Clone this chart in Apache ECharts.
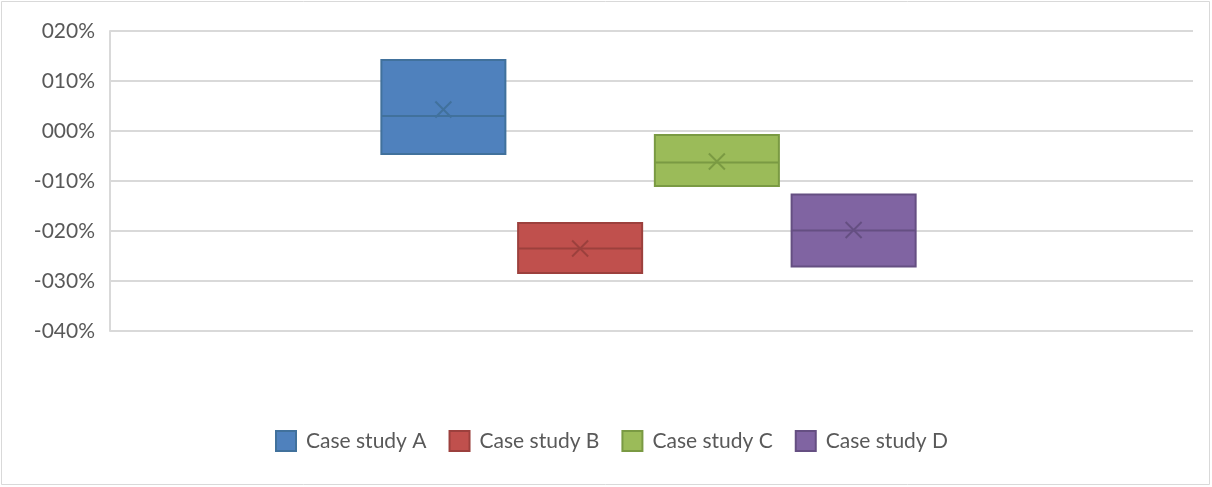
<!DOCTYPE html>
<html>
<head>
<meta charset="utf-8">
<script src="https://cdn.jsdelivr.net/npm/echarts@6/dist/echarts.min.js"></script>
<style>
  html, body { margin: 0; padding: 0; background: #fff; }
  #chart { width: 1212px; height: 487px; }
</style>
</head>
<body>
<div id="chart"></div>
<script>
// Box summary per case study, in percent
const categories = ['Case study A', 'Case study B', 'Case study C', 'Case study D'];
const q1Values = [-4.6, -28.4, -11.0, -27.1];
const medianValues = [3.0, -23.5, -6.3, -19.9];
const q3Values = [14.2, -18.4, -0.8, -12.7];
const meanValues = [4.3, -23.5, -6.1, -19.8];
const yTicks = [20, 10, 0, -10, -20, -30, -40];

const fills = ['#4f81bd', '#c0504d', '#9bbb59', '#8064a2'];
const strokes = ['#41719c', '#9c403d', '#7a9a43', '#654f82'];
const FONT = 'Lato, "Open Sans", sans-serif';

function pctLabel(v) {
  const r = Math.round(v);
  const s = String(Math.abs(r)).padStart(3, '0');
  return (r < 0 ? '-' : '') + s + '%';
}

const yMin = yTicks[yTicks.length - 1];
const yMax = yTicks[0];

const series = categories.map((name, i) => ({
  name: name,
  type: 'custom',
  xAxisIndex: 1,
  yAxisIndex: 1,
  itemStyle: { color: fills[i], borderColor: strokes[i] },
  data: [[i, q1Values[i], medianValues[i], q3Values[i], meanValues[i]]],
  renderItem: function (params, api) {
    const x = api.value(0);
    const lo = api.coord([x, api.value(1)]);
    const med = api.coord([x, api.value(2)]);
    const hi = api.coord([x, api.value(3)]);
    const mean = api.coord([x, api.value(4)]);
    const w = api.size([1, 0])[0] * 0.907;
    const left = lo[0] - w / 2;
    const r = 8;
    return {
      type: 'group',
      children: [
        {
          type: 'rect',
          shape: { x: left, y: hi[1], width: w, height: lo[1] - hi[1] },
          style: { fill: fills[i], stroke: strokes[i], lineWidth: 2 }
        },
        {
          type: 'line',
          shape: { x1: left, y1: med[1], x2: left + w, y2: med[1] },
          style: { stroke: strokes[i], lineWidth: 2 }
        },
        {
          type: 'line',
          shape: { x1: mean[0] - r, y1: mean[1] - r, x2: mean[0] + r, y2: mean[1] + r },
          style: { stroke: strokes[i], lineWidth: 2 }
        },
        {
          type: 'line',
          shape: { x1: mean[0] - r, y1: mean[1] + r, x2: mean[0] + r, y2: mean[1] - r },
          style: { stroke: strokes[i], lineWidth: 2 }
        }
      ]
    };
  }
}));

const chart = echarts.init(document.getElementById('chart'), null, { renderer: 'canvas' });
chart.setOption({
  animation: false,
  backgroundColor: '#ffffff',
  graphic: [{
    type: 'rect',
    shape: { x: 1.5, y: 1.5, width: 1208, height: 483 },
    style: { fill: 'none', stroke: '#d9d9d9', lineWidth: 1 },
    z: -1
  }],
  grid: [
    { left: 110, right: 19, top: 31, bottom: 156 },
    { left: 375, width: 547, top: 31, bottom: 156 }
  ],
  xAxis: [
    { gridIndex: 0, type: 'category', data: [''], show: false },
    { gridIndex: 1, type: 'category', data: categories, show: false }
  ],
  yAxis: [
    {
      gridIndex: 0,
      type: 'value',
      min: yMin, max: yMax, interval: 10,
      axisLine: { show: true, lineStyle: { color: '#d9d9d9', width: 2 } },
      axisTick: { show: false },
      splitLine: { lineStyle: { color: '#d9d9d9', width: 2 } },
      axisLabel: {
        formatter: pctLabel,
        color: '#595959',
        fontFamily: FONT,
        fontSize: 21,
        margin: 15
      }
    },
    { gridIndex: 1, type: 'value', min: yMin, max: yMax, show: false }
  ],
  legend: {
    left: 270,
    top: 425,
    itemWidth: 20,
    itemHeight: 20,
    itemGap: 22,
    icon: 'rect',
    textStyle: { color: '#595959', fontFamily: FONT, fontSize: 21, padding: [0, 0, 4, 5] },
    data: categories.map((n, i) => ({
      name: n,
      itemStyle: { color: fills[i], borderColor: strokes[i], borderWidth: 2 }
    }))
  },
  series: series
});
</script>
</body>
</html>
